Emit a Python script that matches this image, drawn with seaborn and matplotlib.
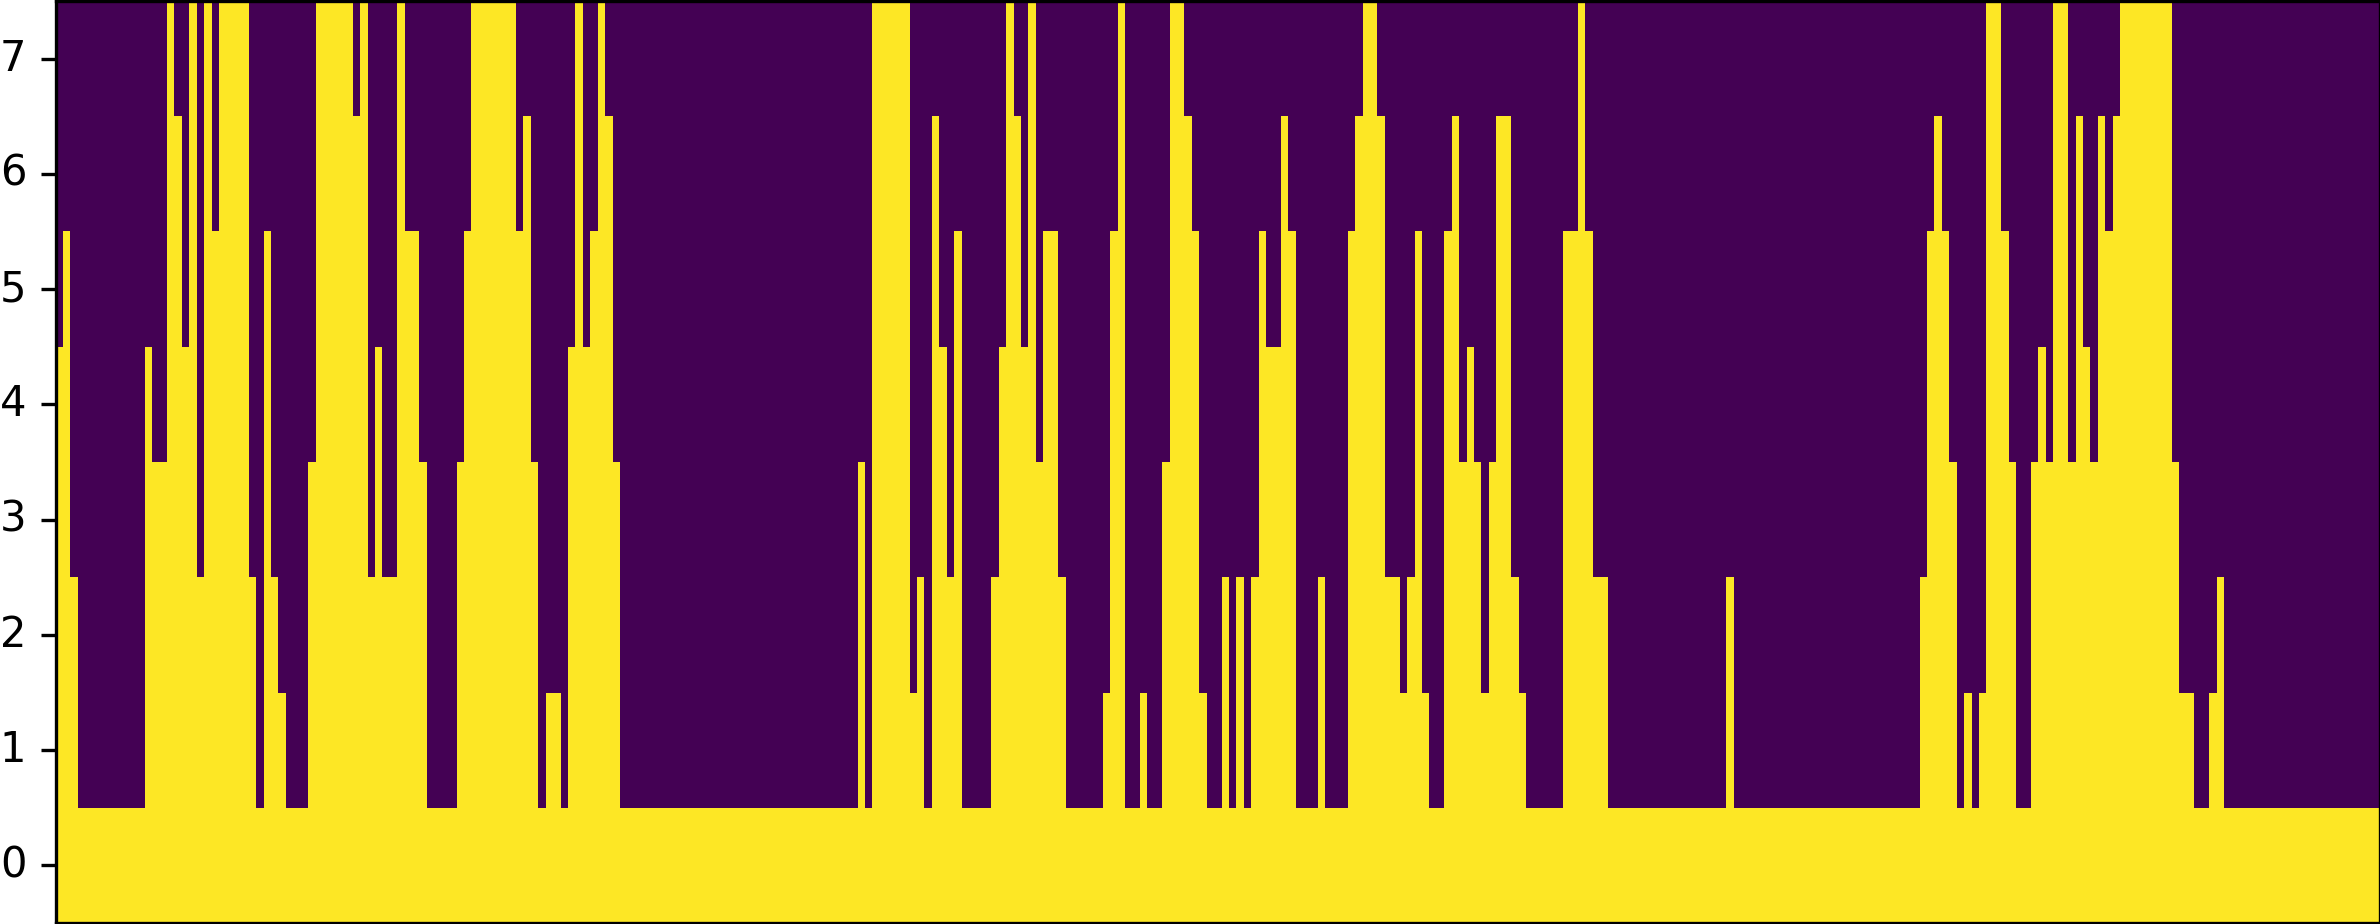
import numpy as np
import pandas as pd
import matplotlib
matplotlib.use("Agg")
import matplotlib.pyplot as plt
import seaborn as sns

# top filled row of every column, left to right
heights = [
    4, 5, 2, 0, 0, 0, 0, 0, 0, 0, 0, 0, 4, 3, 3, 7, 6, 4, 7, 2,
    7, 5, 7, 7, 7, 7, 2, 0, 5, 2, 1, 0, 0, 0, 3, 7, 7, 7, 7, 7,
    6, 7, 2, 4, 2, 2, 7, 5, 5, 3, 0, 0, 0, 0, 3, 5, 7, 7, 7, 7,
    7, 7, 5, 6, 3, 0, 1, 1, 0, 4, 7, 4, 5, 7, 6, 3, 0, 0, 0, 0,
    0, 0, 0, 0, 0, 0, 0, 0, 0, 0, 0, 0, 0, 0, 0, 0, 0, 0, 0, 0,
    0, 0, 0, 0, 0, 0, 0, 0, 3, 0, 7, 7, 7, 7, 7, 1, 2, 0, 6, 4,
    2, 5, 0, 0, 0, 0, 2, 4, 7, 6, 4, 7, 3, 5, 5, 2, 0, 0, 0, 0,
    0, 1, 5, 7, 0, 0, 1, 0, 0, 3, 7, 7, 6, 5, 1, 0, 0, 2, 0, 2,
    0, 2, 5, 4, 4, 6, 5, 0, 0, 0, 2, 0, 0, 0, 5, 6, 7, 7, 6, 2,
    2, 1, 2, 5, 1, 0, 0, 5, 6, 3, 4, 3, 1, 3, 6, 6, 2, 1, 0, 0,
    0, 0, 0, 5, 5, 7, 5, 2, 2, 0, 0, 0, 0, 0, 0, 0, 0, 0, 0, 0,
    0, 0, 0, 0, 0, 2, 0, 0, 0, 0, 0, 0, 0, 0, 0, 0, 0, 0, 0, 0,
    0, 0, 0, 0, 0, 0, 0, 0, 0, 0, 0, 2, 5, 6, 5, 3, 0, 1, 0, 1,
    7, 7, 5, 3, 0, 0, 3, 4, 3, 7, 7, 3, 6, 4, 3, 6, 5, 6, 7, 7,
    7, 7, 7, 7, 7, 3, 1, 1, 0, 0, 1, 2, 0, 0, 0, 0, 0, 0, 0, 0,
    0, 0, 0, 0, 0, 0, 0, 0, 0, 0, 0, 0, 0,
]
rows = [0, 1, 2, 3, 4, 5, 6, 7]

mask = pd.DataFrame(
    [[int(h >= r) for h in heights] for r in rows],
    index=rows
)

fig = plt.figure(figsize=(2380 / 300, 924 / 300), dpi=300)
ax = fig.add_axes([55.6 / 2380, 1 / 924, 1 - 55.6 / 2380, 922 / 924])

sns.heatmap(mask, cmap="viridis", vmin=0, vmax=1, cbar=False, ax=ax)
ax.invert_yaxis()

ax.set_xticks([])
ax.set_yticks(np.array(rows) + 0.5)
ax.set_yticklabels(rows, rotation=0)
ax.set_xlabel("")
ax.set_ylabel("")

for side in ax.spines:
    ax.spines[side].set_visible(True)
    ax.spines[side].set_linewidth(0.8)

fig.savefig("out.png", dpi=300)
plt.close(fig)
